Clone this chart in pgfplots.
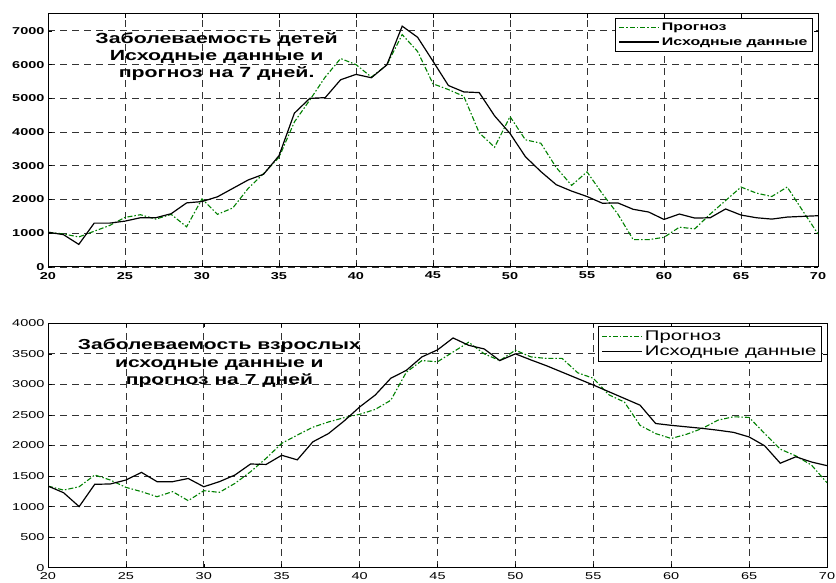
\documentclass[border=0pt]{standalone}
\usepackage{fontspec}
\setmainfont{Liberation Sans}[FakeStretch=1.45]
\usepackage{pgfplots}
\usepackage{pgfplotstable}
\pgfplotsset{compat=1.18}

\definecolor{fcgreen}{rgb}{0,0.5,0}

% Children: day, forecast, observed
\pgfplotstableread{
day fc obs
20 1030 1030
21 980 960
22 890 670
23 1060 1300
24 1230 1300
25 1470 1360
26 1550 1460
27 1420 1460
28 1560 1580
29 1190 1900
30 2020 1940
31 1560 2080
32 1750 2330
33 2330 2580
34 2770 2750
35 3250 3300
36 4300 4560
37 4950 5000
38 5630 5020
39 6180 5550
40 6000 5710
41 5630 5610
42 5990 5990
43 6890 7140
44 6390 6810
45 5430 6100
46 5260 5380
47 5060 5190
48 3980 5170
49 3550 4480
50 4460 3960
51 3770 3270
52 3670 2830
53 2950 2440
54 2420 2250
55 2820 2090
56 2170 1890
57 1570 1900
58 810 1710
59 810 1630
60 880 1410
61 1180 1570
62 1130 1450
63 1570 1460
64 1970 1720
65 2370 1540
66 2190 1460
67 2090 1420
68 2370 1480
69 1670 1500
70 980 1520
}\children

% Adults: day, forecast, observed
\pgfplotstableread{
day fc obs
20 1336 1336
21 1270 1227
22 1325 1000
23 1517 1365
24 1435 1370
25 1315 1435
26 1245 1560
27 1162 1408
28 1245 1408
29 1097 1460
30 1260 1325
31 1233 1408
32 1380 1517
33 1570 1697
34 1790 1690
35 2035 1840
36 2170 1765
37 2300 2060
38 2385 2195
39 2455 2400
40 2510 2630
41 2590 2825
42 2740 3100
43 3200 3230
44 3390 3450
45 3370 3565
46 3530 3760
47 3690 3640
48 3500 3580
49 3390 3390
50 3560 3500
51 3450 3400
52 3425 3305
53 3425 3200
54 3190 3095
55 3100 2990
56 2830 2880
57 2710 2770
58 2330 2660
59 2195 2360
60 2115 2330
61 2185 2305
62 2280 2280
63 2415 2250
64 2470 2215
65 2460 2140
66 2195 1995
67 1940 1710
68 1830 1815
69 1680 1730
70 1390 1670
}\adults

\pgfplotsset{
  panel/.style={
    scale only axis,
    anchor=south west,
    xmin=20, xmax=70, ymin=0,
    xtick={20,25,...,70},
    grid=major,
    major grid style={black!80, dash pattern=on 7pt off 5pt, line width=0.75pt},
    axis line style={line width=1pt},
    tick align=inside,
    major tick length=4pt,
    tick style={black, line width=0.6pt},
    scaled ticks=false,
    /pgf/number format/assume math mode=true,
    /pgf/number format/1000 sep={},
    legend cell align=left,
    legend image code/.code={\draw[#1] (0pt,0pt) -- (40pt,0pt);},
  },
  fcline/.style={fcgreen, line width=1.1pt, dash pattern=on 5pt off 2pt on 1.5pt off 2pt},
  obsline/.style={black, line width=1.2pt},
}

\begin{document}
\begin{tikzpicture}[x=1pt,y=1pt]
\useasboundingbox (0,0) rectangle (836,583);

% Children
\begin{axis}[panel,
  at={(48pt,316pt)}, width=770pt, height=253pt,
  ymax=7500, ytick={0,1000,...,7000},
  ticklabel style={font=\bfseries\fontsize{10}{12}\selectfont},
  xticklabel style={yshift=-1.5pt},
  legend style={at={(1,1)}, anchor=north east, xshift=-5pt, yshift=-4pt,
    draw=black, line width=1pt, inner xsep=3pt, inner ysep=2.5pt, row sep=1.5pt,
    font=\bfseries\fontsize{11}{13}\selectfont},
]
\addplot[fcline] table[x=day, y=fc] {\children};
\addlegendentry{Прогноз}
\addplot[obsline] table[x=day, y=obs] {\children};
\addlegendentry{Исходные данные}
\node[align=center, font=\bfseries\fontsize{14.7}{17}\selectfont]
  at (axis cs:30.95,6230) {Заболеваемость детей\\Исходные данные и\\прогноз на 7 дней.};
\end{axis}

% Adults
\begin{axis}[panel,
  at={(48pt,15.3pt)}, width=779pt, height=244.4pt,
  ymax=4000, ytick={0,500,...,4000},
  ticklabel style={font=\fontsize{10}{12}\selectfont},
  xticklabel style={yshift=-1.5pt},
  legend style={at={(1,1)}, anchor=north east, xshift=-5pt, yshift=-3pt,
    draw=black, line width=1pt, inner xsep=3pt, inner ysep=2pt, row sep=0pt,
    font=\fontsize{14}{16}\selectfont},
]
\addplot[fcline] table[x=day, y=fc] {\adults};
\addlegendentry{Прогноз}
\addplot[obsline] table[x=day, y=obs] {\adults};
\addlegendentry{Исходные данные}
\node[align=center, font=\bfseries\fontsize{14.5}{17.5}\selectfont]
  at (axis cs:31.0,3340) {Заболеваемость взрослых\\исходные данные и\\прогноз на 7 дней};
\end{axis}
\end{tikzpicture}
\end{document}
